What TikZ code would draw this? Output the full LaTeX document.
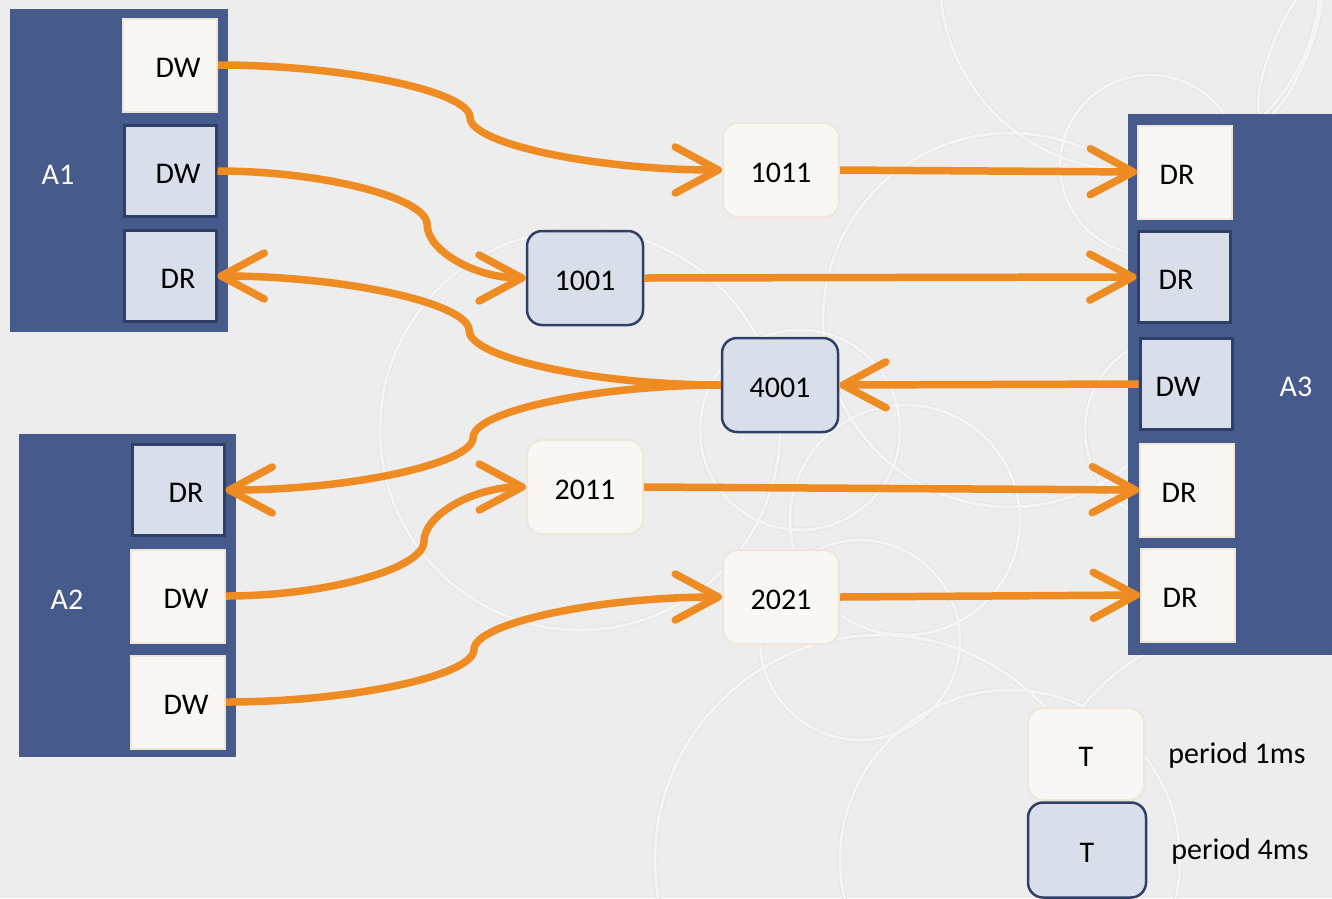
\documentclass[tikz,border=0pt]{standalone}
\usepackage{fontspec}
\setmainfont{Carlito}
\usetikzlibrary{arrows.meta,calc}
\definecolor{bg}{HTML}{EDEDED}
\definecolor{blk}{HTML}{465A8B}
\definecolor{lblue}{HTML}{D8DEEA}
\definecolor{dkb}{HTML}{2F3F66}
\definecolor{cream}{HTML}{F8F7F3}
\definecolor{beige}{HTML}{EEE7D9}
\definecolor{orng}{HTML}{EE8B22}
\definecolor{ringw}{HTML}{F4F4F4}
\definecolor{ringg}{HTML}{E5E5E5}
\newcommand\txtR[1]{\kern16pt #1}
\newcommand\txtL[1]{#1\kern16pt}
\begin{document}
\begin{tikzpicture}[x=1pt,y=-1pt,
  font=\fontsize{30}{36}\selectfont,
  ringo/.style={draw=ringg,line width=5pt},
  ringi/.style={draw=ringw,line width=3pt},
  blockbox/.style={fill=blk,inner sep=0pt,anchor=north west},
  blocklabel/.style={text=white,inner sep=0pt},
  fbox/.style={fill=cream,draw=beige,line width=2pt,inner sep=0pt,minimum width=94pt,minimum height=93pt,text height=25pt,text depth=0pt},
  bbox/.style={fill=lblue,draw=dkb,line width=3pt,inner sep=0pt,minimum width=92pt,minimum height=91pt,text height=25pt,text depth=0pt},
  fnode/.style={fill=cream,draw=beige,line width=2pt,rounded corners=15pt,inner sep=0pt,minimum width=116pt,minimum height=94pt,text height=25pt,text depth=0pt},
  bnode/.style={fill=lblue,draw=dkb,line width=2.5pt,rounded corners=15pt,inner sep=0pt,minimum width=116pt,minimum height=94pt,text height=25pt,text depth=0pt},
  plain/.style={inner sep=0pt},
  flow/.style={draw=orng,line width=7.5pt,-{Straight Barb[length=43pt,width=46pt,round]}},
  elbow/.style={to path={let \p1=(\tikztostart), \p2=(\tikztotarget) in
    .. controls ({(1-#1/2)*\x1+(#1/2)*\x2},{\y1}) and ({(1-#1)*\x1+#1*\x2},{0.75*\y1+0.25*\y2}) .. ({(1-#1)*\x1+#1*\x2},{0.5*\y1+0.5*\y2})
    .. controls ({(1-#1)*\x1+#1*\x2},{0.25*\y1+0.75*\y2}) and ({(0.5-#1/2)*\x1+(0.5+#1/2)*\x2},{\y2}) .. (\tikztotarget) \tikztonodes}},
  elbow/.default=0.5
]
\useasboundingbox (0,0) rectangle (1332,898);
\fill[bg] (0,0) rectangle (1332,898);

% faint background rings
\foreach \s in {ringo,ringi}{
  \draw[\s] (580,430) circle[radius=200pt];
  \draw[\s] (800,430) circle[radius=100pt];
  \draw[\s] (905,520) circle[radius=115pt];
  \draw[\s] (880,860) circle[radius=225pt];
  \draw[\s] (1010,860) circle[radius=170pt];
  \draw[\s] (1240,830) circle[radius=200pt];
  \draw[\s] (1130,-20) circle[radius=190pt];
  \draw[\s] (1150,165) circle[radius=90pt];
  \draw[\s] (1010,320) circle[radius=187pt];
  \draw[\s] (1180,430) circle[radius=95pt];
  \draw[\s] (860,640) circle[radius=100pt];
  \draw[\s,rotate around={-22:(1290,50)}] (1290,50) ellipse[x radius=18pt,y radius=72pt];
}

% blocks
\node[blockbox,minimum width=218pt,minimum height=323pt] (A1) at (10,9) {};
\node[blockbox,minimum width=217pt,minimum height=323pt] (A2) at (19,434) {};
\node[blockbox,minimum width=220pt,minimum height=541pt] (A3) at (1128,114) {};
\node[blocklabel] (A1l) at (58,175) {A1};
\node[blocklabel] (A2l) at (67,600) {A2};
\node[blocklabel] (A3l) at (1296,387) {A3};

% A1 ports
\node[fbox] (a1dw1) at (170,65) {\txtR{DW}};
\node[bbox] (a1dw2) at (170,171) {\txtR{DW}};
\node[bbox] (a1dr) at (170,276) {\txtR{DR}};
% A2 ports
\node[bbox] (a2dr) at (178,490) {\txtR{DR}};
\node[fbox] (a2dw1) at (178,596) {\txtR{DW}};
\node[fbox] (a2dw2) at (178,702) {\txtR{DW}};
% A3 ports
\node[fbox] (a3dr1) at (1185,172) {\txtL{DR}};
\node[bbox] (a3dr2) at (1184,277) {\txtL{DR}};
\node[bbox] (a3dw) at (1186,384) {\txtL{DW}};
\node[fbox] (a3dr3) at (1187,490) {\txtL{DR}};
\node[fbox] (a3dr4) at (1188,595) {\txtL{DR}};

% topics
\node[fnode] (t1011) at (781,170) {1011};
\node[bnode] (t1001) at (585,278) {1001};
\node[bnode] (t4001) at (780,385) {4001};
\node[fnode] (t2011) at (585,487) {2011};
\node[fnode] (t2021) at (781,597) {2021};

% legend
\node[fnode,minimum width=116pt,minimum height=92pt] (lg1) at (1086,754) {T};
\node[bnode,minimum width=118pt,minimum height=95pt] (lg2) at (1087,850) {T};
\node[plain] (lg1t) at (1237,755) {period 1ms};
\node[plain] (lg2t) at (1240,851) {period 4ms};

% connectors
\draw[flow] (a1dw1.east) to[elbow] (t1011.west);
\draw[flow] (a1dw2.east) to[elbow=0.68] (t1001.west);
\draw[flow] (t4001.west) to[elbow] (a1dr.east);
\draw[flow] (t4001.west) to[elbow] (a2dr.east);
\draw[flow] (a2dw1.east) to[elbow=0.66] (t2011.west);
\draw[flow] (a2dw2.east) to[elbow] (t2021.west);
\draw[flow] (t1011.east) -- (a3dr1.west);
\draw[flow] (t1001.east) -- (a3dr2.west);
\draw[flow] (a3dw.west) -- (t4001.east);
\draw[flow] (t2011.east) -- (a3dr3.west);
\draw[flow] (t2021.east) -- (a3dr4.west);
\end{tikzpicture}
\end{document}
